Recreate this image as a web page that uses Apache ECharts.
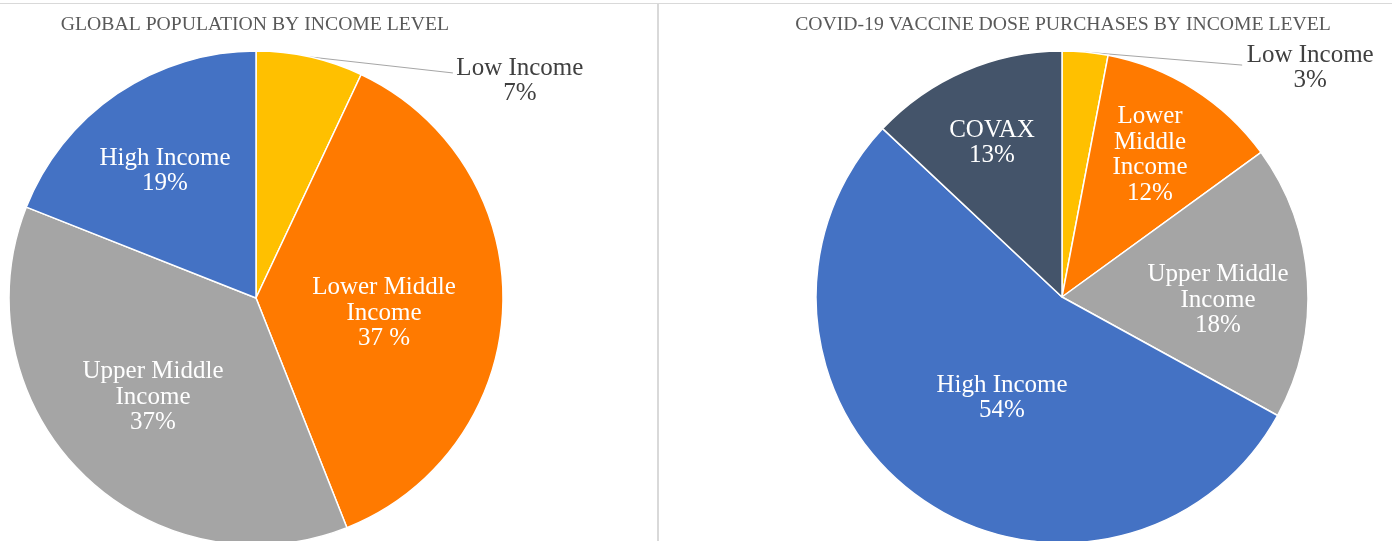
<!DOCTYPE html>
<html>
<head>
<meta charset="utf-8">
<script src="https://cdn.jsdelivr.net/npm/echarts@6/dist/echarts.min.js"></script>
<style>
    html, body { margin: 0; padding: 0; background: #fff; }
    #main { width: 1392px; height: 541px; }
</style>
</head>
<body>
<div id="main"></div>
<script>
// 全球人口
var popNames = ['Low Income', 'Lower Middle\nIncome', 'Upper Middle\nIncome', 'High Income'];
var popValues = [7, 37, 37, 19];
var popPercents = ['7%', '37 %', '37%', '19%'];

// 疫苗采购
var vacNames = ['Low Income', 'Lower\nMiddle\nIncome', 'Upper Middle\nIncome', 'High Income', 'COVAX'];
var vacValues = [3, 12, 18, 54, 13];
var vacPercents = ['3%', '12%', '18%', '54%', '13%'];

var popColors = ['#FFC000', '#FF7A00', '#A5A5A5', '#4472C4'];
var vacColors = ['#FFC000', '#FF7A00', '#A5A5A5', '#4472C4', '#44546A'];

var serif = "'Liberation Serif', 'Times New Roman', serif";

var buildData = function (names, values, colors) {
    return names.map(function (name, i) {
        var item = { name: name, value: values[i], itemStyle: { color: colors[i] } };
        if (i === 0) {
            item.label = { position: 'outside', color: '#404040' };
            item.labelLine = { show: true };
        }
        return item;
    });
};

// label 位置 (相对饼图中心)
var makeLayout = function (center, offsets, outer) {
    return function (params) {
        var i = params.dataIndex;
        if (i === 0) {
            var p0 = params.labelLinePoints[0];
            var end = [p0[0] + outer.lx, p0[1] + outer.ly];
            return {
                x: p0[0] + outer.dx,
                y: p0[1] + outer.dy,
                align: 'center',
                verticalAlign: 'middle',
                labelLinePoints: [p0, end, end]
            };
        }
        return {
            x: center[0] + offsets[i][0],
            y: center[1] + offsets[i][1],
            align: 'center',
            verticalAlign: 'middle'
        };
    };
};

var pieSeries = function (center, radius, data, percents, offsets, outer) {
    return {
        type: 'pie',
        center: center,
        radius: radius,
        startAngle: 90,
        clockwise: true,
        silent: true,
        avoidLabelOverlap: false,
        itemStyle: { borderColor: '#fff', borderWidth: 1.5 },
        label: {
            position: 'inside',
            color: '#fff',
            fontFamily: serif,
            fontSize: 25,
            lineHeight: 25.5,
            align: 'center',
            formatter: function (p) {
                return p.name + '\n' + percents[p.dataIndex];
            }
        },
        labelLine: { show: false, lineStyle: { color: '#A6A6A6', width: 1 } },
        labelLayout: makeLayout(center, offsets, outer),
        data: data
    };
};

var popCenter = [256, 298];
var vacCenter = [1062, 297];

var option = {
    animation: false,
    backgroundColor: '#fff',
    title: [
        {
            text: 'GLOBAL POPULATION BY INCOME LEVEL',
            left: 250, top: 10, textAlign: 'center',
            textStyle: { fontFamily: serif, fontSize: 19.7, fontWeight: 'normal', color: '#595959' }
        },
        {
            text: 'COVID-19 VACCINE DOSE PURCHASES BY INCOME LEVEL',
            left: 1058, top: 10, textAlign: 'center',
            textStyle: { fontFamily: serif, fontSize: 19.7, fontWeight: 'normal', color: '#595959' }
        }
    ],
    graphic: [
        { type: 'line', shape: { x1: 0, y1: 3.5, x2: 1392, y2: 3.5 }, style: { stroke: '#D9D9D9', lineWidth: 1 } },
        { type: 'line', shape: { x1: 658, y1: 3, x2: 658, y2: 541 }, style: { stroke: '#D9D9D9', lineWidth: 2 } }
    ],
    series: [
        pieSeries(popCenter, 247, buildData(popNames, popValues, popColors), popPercents,
            [null, [128, 15], [-103, 99], [-91, -127]], { dx: 210, dy: 24, lx: 143, ly: 16 }),
        pieSeries(vacCenter, 246, buildData(vacNames, vacValues, vacColors), vacPercents,
            [null, [88, -142], [156, 3], [-60, 101], [-70, -154]], { dx: 225, dy: 16, lx: 157, ly: 13 })
    ]
};

var chart = echarts.init(document.getElementById('main'));
chart.setOption(option);
</script>
</body>
</html>
